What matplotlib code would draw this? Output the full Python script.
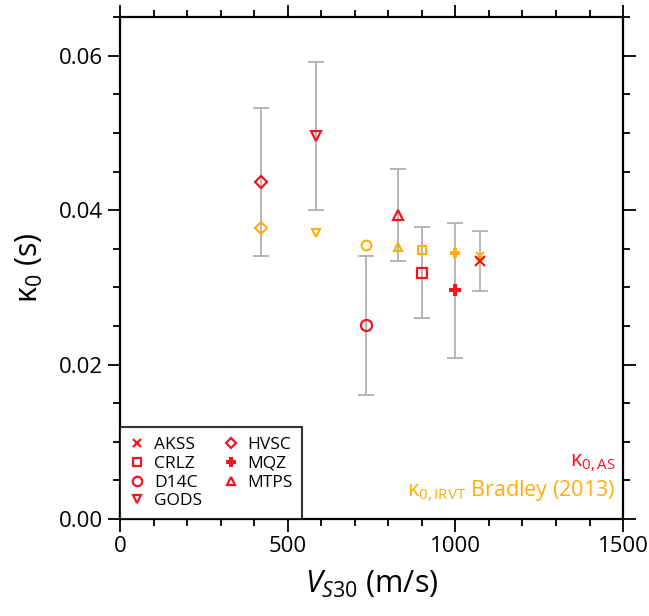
import matplotlib
matplotlib.use("Agg")
import matplotlib.pyplot as plt
from matplotlib.ticker import MultipleLocator

plt.rcParams['font.family'] = ['Open Sans', 'DejaVu Sans']
plt.rcParams['mathtext.fontset'] = 'custom'
plt.rcParams['mathtext.rm'] = 'Open Sans'
plt.rcParams['mathtext.it'] = 'Open Sans:italic'

stations = ['AKSS', 'CRLZ', 'D14C', 'GODS', 'HVSC', 'MQZ', 'MTPS']
markers = ['x', 's', 'o', 'v', 'D', 'P', '^']
vs30 = [1074, 900, 732, 585, 421, 1000, 830]
kappa_as = [0.0334, 0.0319, 0.0251, 0.0496, 0.0437, 0.0296, 0.0394]
kappa_err = [0.0039, 0.0059, 0.0090, 0.0096, 0.0096, 0.0088, 0.0060]
kappa_irvt = [0.0341, 0.0348, 0.0355, 0.0371, 0.0377, 0.0344, 0.0352]

red = '#f5141e'
orange = '#ffad0a'
gray = '#b0b0b0'

fig = plt.figure(figsize=(6.49, 6.16), dpi=100)
ax = fig.add_axes([0.185, 0.1575, 0.775, 0.8145])

msz_red = {'x': 7, 's': 7, 'o': 8, 'v': 7, 'D': 6.5, 'P': 8.5, '^': 7}
msz_or = {'x': 6, 's': 6, 'o': 7, 'v': 6, 'D': 6, 'P': 7.5, '^': 6}

for st, m, x, ka, ke, ki in zip(stations, markers, vs30, kappa_as, kappa_err, kappa_irvt):
    ax.errorbar([x], [ka], yerr=[ke], fmt='none', ecolor=gray, elinewidth=1.3,
                capsize=6, capthick=1.3, zorder=1)
    if m in ('x', 'P'):
        ax.plot([x], [ki], marker=m, color=orange, markersize=msz_or[m],
                linestyle='none', markeredgewidth=1.5 if m == 'x' else 0, zorder=2)
        ax.plot([x], [ka], marker=m, color=red, markersize=msz_red[m],
                linestyle='none', markeredgewidth=1.6 if m == 'x' else 0, zorder=3, label=st)
    else:
        ax.plot([x], [ki], marker=m, markerfacecolor='none', markeredgecolor=orange,
                markersize=msz_or[m], markeredgewidth=1.5, linestyle='none', zorder=2)
        ax.plot([x], [ka], marker=m, markerfacecolor='none', markeredgecolor=red,
                markersize=msz_red[m], markeredgewidth=1.6, linestyle='none', zorder=3, label=st)

ax.set_xlim(0, 1500)
ax.set_ylim(0, 0.065)
ax.xaxis.set_major_locator(MultipleLocator(500))
ax.xaxis.set_minor_locator(MultipleLocator(100))
ax.yaxis.set_major_locator(MultipleLocator(0.02))
ax.yaxis.set_minor_locator(MultipleLocator(0.005))
ax.yaxis.set_major_formatter(plt.FuncFormatter(lambda v, p: f'{v:.2f}'))
ax.tick_params(which='both', direction='out', top=True, right=True, width=1.3, colors='black')
ax.tick_params(which='major', length=9, labelsize=16)
ax.tick_params(which='minor', length=5)
for s in ax.spines.values():
    s.set_linewidth(1.6)

ax.set_xlabel(r'$V_{S30}$ (m/s)', fontsize=22, labelpad=8)
ax.set_ylabel(r'κ$_0$ (s)', fontsize=22, labelpad=10)

leg = ax.legend(loc='lower left', ncol=2, frameon=True, fontsize=12.5,
                borderaxespad=0, fancybox=False, handlelength=0.9, handletextpad=0.5,
                columnspacing=1.2, labelspacing=0.15, borderpad=0.55, markerscale=0.85)
leg.get_frame().set_edgecolor('black')
leg.get_frame().set_linewidth(1.5)

ax.text(0.985, 0.09, r'κ$_{0,\mathrm{AS}}$', transform=ax.transAxes, ha='right',
        va='bottom', color=red, fontsize=15.5)
ax.text(0.985, 0.03, r'κ$_{0,\mathrm{IRVT}}$ Bradley (2013)', transform=ax.transAxes,
        ha='right', va='bottom', color=orange, fontsize=15.5)

fig.savefig('out.png', dpi=100)
